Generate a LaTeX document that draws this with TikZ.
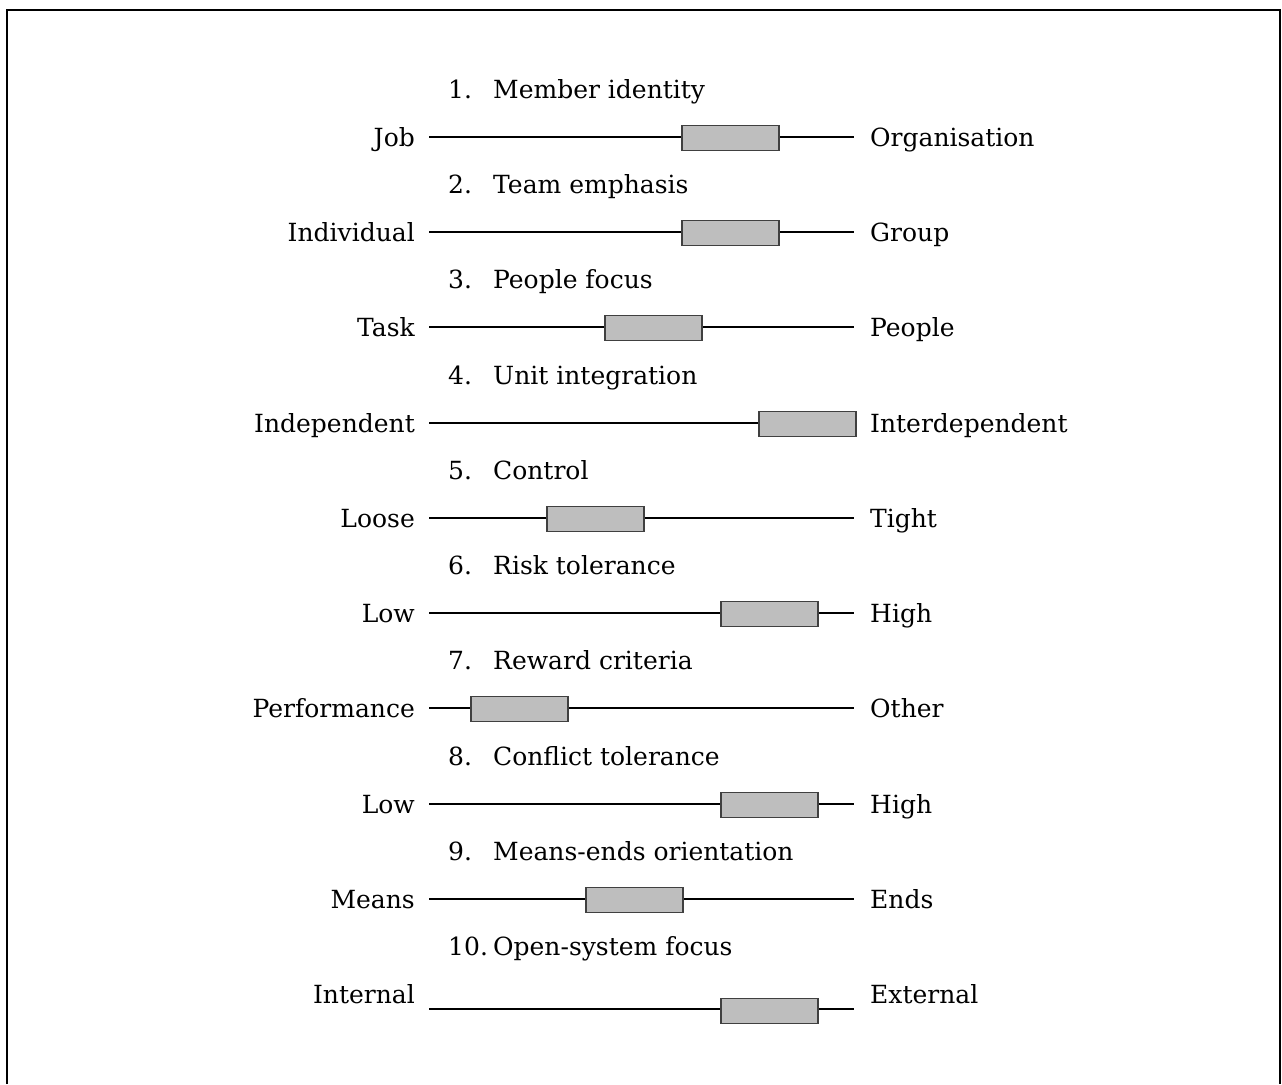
\documentclass[tikz,border=0pt]{standalone}
\usepackage{fontspec}
\setmainfont{DejaVu Serif}
\definecolor{barfill}{RGB}{190,190,190}
\definecolor{baredge}{RGB}{64,64,64}

\begin{document}
\begin{tikzpicture}[x=1pt,y=-1pt,
  every node/.style = {font=\fontsize{25}{30}\selectfont, inner sep=0pt},
  leftlab/.style = {anchor=base east},
  rightlab/.style = {anchor=base west},
  heading/.style = {anchor=base west},
  scaleline/.style = {line width=2pt},
  marker/.style = {draw=baredge, fill=barfill, line width=1.8pt,
    minimum width=97pt, minimum height=25pt, anchor=west}]
  \useasboundingbox (0,0) rectangle (1282,1084);
  \draw[line width=2.4pt] (7,1084) |- (1280,10) -- (1280,1084);

  \node[heading] (h1) at (448,98) {\makebox[45pt][l]{1.}Member identity};
  \coordinate (a1) at (429,137); \coordinate (b1) at (854,137);
  \node[leftlab] (l1) at (415,146) {Job};
  \node[rightlab] (r1) at (870,146) {Organisation};
  \draw[scaleline] (a1) -- (b1);
  \node[marker] (m1) at (681,138) {};

  \node[heading] (h2) at (448,193) {\makebox[45pt][l]{2.}Team emphasis};
  \coordinate (a2) at (429,232); \coordinate (b2) at (854,232);
  \node[leftlab] (l2) at (415,241) {Individual};
  \node[rightlab] (r2) at (870,241) {Group};
  \draw[scaleline] (a2) -- (b2);
  \node[marker] (m2) at (681,233) {};

  \node[heading] (h3) at (448,288) {\makebox[45pt][l]{3.}People focus};
  \coordinate (a3) at (429,327); \coordinate (b3) at (854,327);
  \node[leftlab] (l3) at (415,336) {Task};
  \node[rightlab] (r3) at (870,336) {People};
  \draw[scaleline] (a3) -- (b3);
  \node[marker] (m3) at (604,328) {};

  \node[heading] (h4) at (448,384) {\makebox[45pt][l]{4.}Unit integration};
  \coordinate (a4) at (429,423); \coordinate (b4) at (854,423);
  \node[leftlab] (l4) at (415,432) {Independent};
  \node[rightlab] (r4) at (870,432) {Interdependent};
  \draw[scaleline] (a4) -- (b4);
  \node[marker] (m4) at (758,424) {};

  \node[heading] (h5) at (448,479) {\makebox[45pt][l]{5.}Control};
  \coordinate (a5) at (429,518); \coordinate (b5) at (854,518);
  \node[leftlab] (l5) at (415,527) {Loose};
  \node[rightlab] (r5) at (870,527) {Tight};
  \draw[scaleline] (a5) -- (b5);
  \node[marker] (m5) at (546,519) {};

  \node[heading] (h6) at (448,574) {\makebox[45pt][l]{6.}Risk tolerance};
  \coordinate (a6) at (429,613); \coordinate (b6) at (854,613);
  \node[leftlab] (l6) at (415,622) {Low};
  \node[rightlab] (r6) at (870,622) {High};
  \draw[scaleline] (a6) -- (b6);
  \node[marker] (m6) at (720,614) {};

  \node[heading] (h7) at (448,669) {\makebox[45pt][l]{7.}Reward criteria};
  \coordinate (a7) at (429,708); \coordinate (b7) at (854,708);
  \node[leftlab] (l7) at (415,717) {Performance};
  \node[rightlab] (r7) at (870,717) {Other};
  \draw[scaleline] (a7) -- (b7);
  \node[marker] (m7) at (470,709) {};

  \node[heading] (h8) at (448,765) {\makebox[45pt][l]{8.}Conflict tolerance};
  \coordinate (a8) at (429,804); \coordinate (b8) at (854,804);
  \node[leftlab] (l8) at (415,813) {Low};
  \node[rightlab] (r8) at (870,813) {High};
  \draw[scaleline] (a8) -- (b8);
  \node[marker] (m8) at (720,805) {};

  \node[heading] (h9) at (448,860) {\makebox[45pt][l]{9.}Means-ends orientation};
  \coordinate (a9) at (429,899); \coordinate (b9) at (854,899);
  \node[leftlab] (l9) at (415,908) {Means};
  \node[rightlab] (r9) at (870,908) {Ends};
  \draw[scaleline] (a9) -- (b9);
  \node[marker] (m9) at (585,900) {};

  % last row: labels sit above the line
  \node[heading] (h10) at (448,955) {\makebox[45pt][l]{10.}Open-system focus};
  \coordinate (a10) at (429,1009); \coordinate (b10) at (854,1009);
  \node[leftlab] (l10) at (415,1003) {Internal};
  \node[rightlab] (r10) at (870,1003) {External};
  \draw[scaleline] (a10) -- (b10);
  \node[marker] (m10) at (720,1011) {};
\end{tikzpicture}
\end{document}
